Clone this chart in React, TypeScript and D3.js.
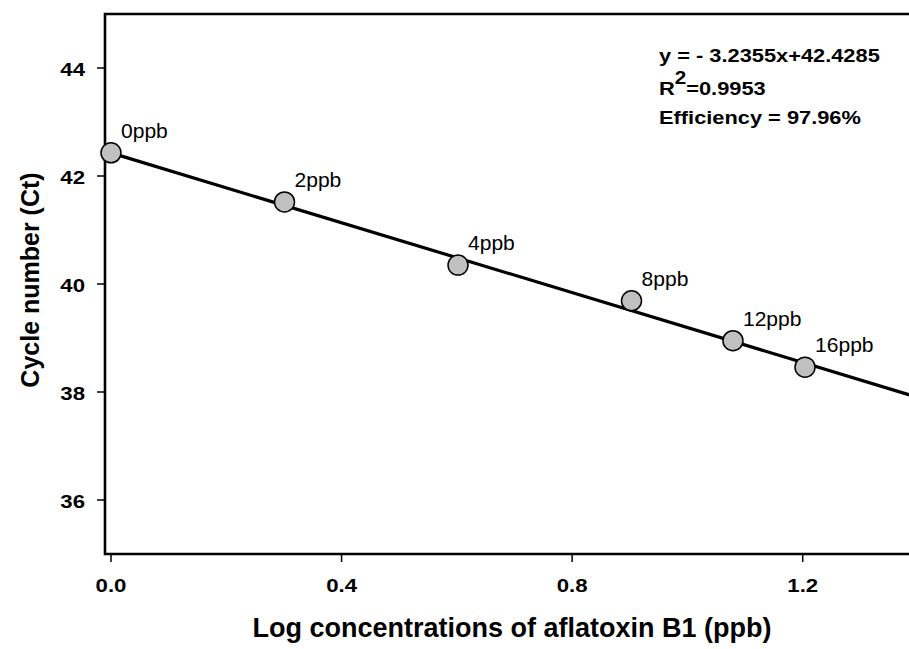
import React from "react";
import * as d3 from "d3";

const pointLabels = ["0ppb", "2ppb", "4ppb", "8ppb", "12ppb", "16ppb"];
const logConc = [0, 0.301, 0.602, 0.903, 1.079, 1.204];
const ctValues = [42.43, 41.52, 40.35, 39.69, 38.95, 38.46];
const xTicks = [0, 0.4, 0.8, 1.2];
const yTicks = [36, 38, 40, 42, 44];
const slope = -3.2355;
const intercept = 42.4285;
const fitRange = [0, 1.4];
const annotation = ["y = - 3.2355x+42.4285", "R", "=0.9953", "Efficiency = 97.96%"];

const W = 909;
const H = 649;
const left = 105;
const top = 14;
const right = 918;
const bottom = 554;
const FONT = "'Liberation Sans', Arial, Helvetica, sans-serif";

function T(props: {
  x: number;
  y: number;
  sx?: number;
  size: number;
  bold?: boolean;
  anchor?: string;
  children: React.ReactNode;
}) {
  const { x, y, sx = 1, size, bold, anchor = "start", children } = props;
  return (
    <g transform={`translate(${x},${y}) scale(${sx},1)`}>
      <text x={0} y={0} fontSize={size} fontWeight={bold ? "bold" : "normal"} textAnchor={anchor}>
        {children}
      </text>
    </g>
  );
}

export default function App() {
  const x = d3.scaleLinear().domain([-0.0104, 1.4]).range([left, right]);
  const y = d3.scaleLinear().domain([35, 45]).range([bottom, top]);
  const fitLine = d3
    .line<number>()
    .x((d) => x(d))
    .y((d) => y(slope * d + intercept));

  return (
    <svg
      width={W}
      height={H}
      style={{ position: "absolute", left: 0, top: 0, background: "#fff" }}
      fontFamily={FONT}
    >
      <defs>
        <clipPath id="vp">
          <rect x={0} y={0} width={W} height={H} />
        </clipPath>
      </defs>
      {/* frame */}
      <path
        d={`M${right},${top} L${left},${top} L${left},${bottom} L${right},${bottom}`}
        fill="none"
        stroke="#000"
        strokeWidth={2.6}
        strokeLinejoin="miter"
        strokeLinecap="square"
      />
      {/* y ticks */}
      {yTicks.map((t) => (
        <g key={"y" + t}>
          <line x1={left - 8} x2={left} y1={y(t)} y2={y(t)} stroke="#000" strokeWidth={1.5} />
          <T x={85} y={y(t) + 7.5} size={19} sx={1.17} bold anchor="end">
            {t}
          </T>
        </g>
      ))}
      {/* x ticks */}
      {xTicks.map((t) => (
        <g key={"x" + t}>
          <line x1={x(t)} x2={x(t)} y1={bottom} y2={bottom + 8} stroke="#000" strokeWidth={1.5} />
          <T x={x(t)} y={592} size={19} sx={1.17} bold anchor="middle">
            {d3.format(".1f")(t)}
          </T>
        </g>
      ))}
      {/* axis titles */}
      <text x={512} y={637} textAnchor="middle" fontWeight="bold" fontSize={27}>
        Log concentrations of aflatoxin B1 (ppb)
      </text>
      <text
        transform={`translate(39,280) rotate(-90)`}
        textAnchor="middle"
        fontWeight="bold"
        fontSize={25}
      >
        Cycle number (Ct)
      </text>
      {/* fit line */}
      <path d={fitLine(fitRange) || ""} fill="none" stroke="#000" strokeWidth={3.2} clipPath="url(#vp)" />
      {/* points */}
      {logConc.map((lx, i) => (
        <circle
          key={"c" + i}
          cx={x(lx)}
          cy={y(ctValues[i])}
          r={10}
          fill="#c0c0c0"
          stroke="#000"
          strokeWidth={1.5}
        />
      ))}
      {logConc.map((lx, i) => (
        <T key={"l" + i} x={x(lx) + 10} y={y(ctValues[i]) - 15} size={19.5} sx={1.08}>
          {pointLabels[i]}
        </T>
      ))}
      {/* annotation */}
      <T x={659} y={61.5} size={18.5} sx={1.18} bold>
        {annotation[0]}
      </T>
      <T x={659} y={95} size={18.5} sx={1.18} bold>
        {annotation[1]}
        <tspan dy={-11} fontSize={17.5}>2</tspan>
        <tspan dy={11}>{annotation[2]}</tspan>
      </T>
      <T x={659} y={123.5} size={18.5} sx={1.18} bold>
        {annotation[3]}
      </T>
    </svg>
  );
}
